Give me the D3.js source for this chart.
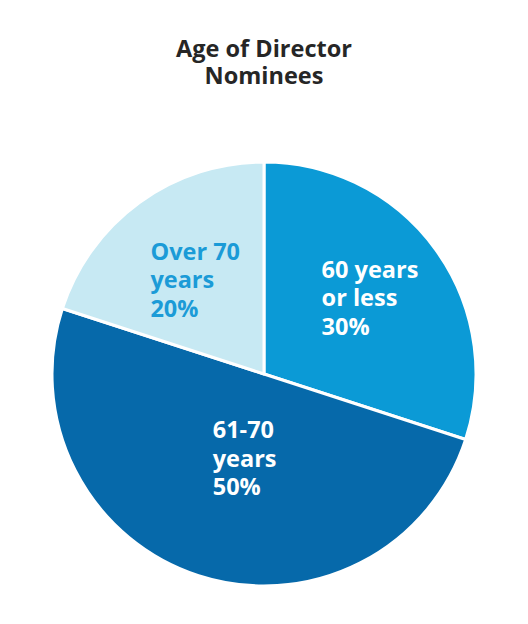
<!DOCTYPE html>
<html lang="en">
  <head>
    <meta charset="utf-8">
    <title>Age of Director Nominees</title>
    <script src="https://d3js.org/d3.v7.min.js"></script>
    <style>
      body { margin: 0; background: #fff; }
      svg { display: block; font-family: "Open Sans", sans-serif; font-weight: 700; }
    </style>
  </head>
  <body>
    <div id="main"></div>
    <script>
      // data
      var categories = [["60 years", "or less"], ["61-70", "years"], ["Over 70", "years"]];
      var shares = [30, 50, 20];
      var colors = ["#0b9ad6", "#0669aa", "#c7e9f3"];
      var textColors = ["#ffffff", "#ffffff", "#1b9bd7"];
      var titleLines = ["Age of Director", "Nominees"];

      var width = 528, height = 624;
      var cx = 264, cy = 374, radius = 212;
      var labelRadius = [131, 86, 117]; // distance of each label block from the centre
      var labelTurn = [0, -5, 0];        // degrees, small nudge along the circle

      var svg = d3.select("#main").append("svg")
        .attr("width", width)
        .attr("height", height);

      svg.append("text")
        .attr("x", cx)
        .attr("text-anchor", "middle")
        .attr("fill", "#262626")
        .style("font-size", "23.5px")
        .selectAll("tspan").data(titleLines).enter().append("tspan")
          .attr("x", cx)
          .attr("y", function(d, i) { return 57 + i * 27; })
          .text(function(d) { return d; });

      var pie = d3.pie().sort(null).value(function(d) { return d; });
      var arcs = pie(shares);
      var arc = d3.arc().innerRadius(0).outerRadius(radius);

      var g = svg.append("g").attr("transform", "translate(" + cx + "," + cy + ")");

      g.selectAll("path").data(arcs).enter().append("path")
        .attr("d", arc)
        .attr("fill", function(d, i) { return colors[i]; })
        .attr("stroke", "#fff")
        .attr("stroke-width", 3)
        .attr("stroke-linejoin", "round");

      var labels = g.selectAll(".label").data(arcs).enter().append("g")
        .attr("class", "label");

      labels.append("text")
        .attr("fill", function(d, i) { return textColors[i]; })
        .style("font-size", "23.5px")
        .selectAll("tspan")
        .data(function(d, i) { return categories[i].concat([shares[i] + "%"]); })
        .enter().append("tspan")
          .attr("x", 0)
          .attr("y", function(d, i) { return i * 28.5; })
          .text(function(d) { return d; });

      // centre each left-aligned block on a point along its slice's middle angle
      labels.each(function(d, i) {
        var box = this.getBBox();
        var a = (d.startAngle + d.endAngle) / 2 + labelTurn[i] * Math.PI / 180;
        var px = labelRadius[i] * Math.sin(a);
        var py = -labelRadius[i] * Math.cos(a);
        d3.select(this).attr("transform", "translate(" +
          (px - box.x - box.width / 2) + "," + (py - box.y - box.height / 2) + ")");
      });
    </script>
  </body>
</html>
